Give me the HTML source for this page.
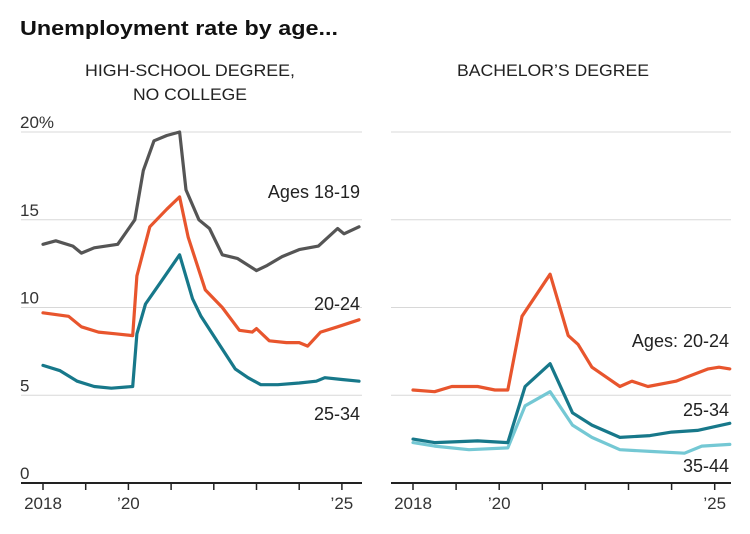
<!DOCTYPE html>
<html><head><meta charset="utf-8"><style>
html,body{margin:0;padding:0;background:#fff;}
svg text{font-family:"Liberation Sans",sans-serif;}
</style></head><body>
<svg id="c" width="750" height="529" xmlns="http://www.w3.org/2000/svg">
<text x="20" y="35" font-size="20" font-weight="bold" fill="#111" textLength="318" lengthAdjust="spacingAndGlyphs">Unemployment rate by age...</text>
<text x="190" y="76" font-size="17" text-anchor="middle" fill="#222" font-family="Liberation Sans Narrow, Liberation Sans, sans-serif" textLength="210" lengthAdjust="spacingAndGlyphs">HIGH-SCHOOL DEGREE,</text>
<text x="190" y="100" font-size="17" text-anchor="middle" fill="#222" font-family="Liberation Sans Narrow, Liberation Sans, sans-serif" textLength="114" lengthAdjust="spacingAndGlyphs">NO COLLEGE</text>
<text x="553" y="76" font-size="17" text-anchor="middle" fill="#222" font-family="Liberation Sans Narrow, Liberation Sans, sans-serif" textLength="192" lengthAdjust="spacingAndGlyphs">BACHELOR’S DEGREE</text>
<g id="plots"></g>
</svg>
<script>
const yTicks=[0,5,10,15,20];
const yTickLabels=["0","5","10","15","20%"];
const xTickYears=[2018,2019,2020,2021,2022,2023,2024,2025];
const xTickLabels={2018:"2018",2020:"’20",2025:"’25"};
const hsYears18=[2018.0,2018.3,2018.7,2018.9,2019.2,2019.75,2019.95,2020.15,2020.35,2020.6,2020.9,2021.2,2021.35,2021.65,2021.9,2022.2,2022.55,2023.0,2023.25,2023.6,2024.0,2024.45,2024.9,2025.05,2025.4];
const hsVals18=[13.6,13.8,13.5,13.1,13.4,13.6,14.3,15.0,17.8,19.5,19.8,20.0,16.7,15.0,14.5,13.0,12.8,12.1,12.4,12.9,13.3,13.5,14.5,14.2,14.6];
const hsYears20=[2018.0,2018.6,2018.9,2019.3,2019.7,2020.1,2020.2,2020.5,2020.9,2021.2,2021.4,2021.8,2022.2,2022.6,2022.9,2023.0,2023.3,2023.7,2024.0,2024.2,2024.5,2024.9,2025.4];
const hsVals20=[9.7,9.5,8.9,8.6,8.5,8.4,11.8,14.6,15.6,16.3,14.0,11.0,10.0,8.7,8.6,8.8,8.1,8.0,8.0,7.8,8.6,8.9,9.3];
const hsYears25=[2018.0,2018.4,2018.8,2019.2,2019.6,2020.1,2020.2,2020.4,2020.8,2021.2,2021.5,2021.7,2022.1,2022.5,2022.8,2023.1,2023.5,2024.0,2024.4,2024.6,2025.0,2025.4];
const hsVals25=[6.7,6.4,5.8,5.5,5.4,5.5,8.5,10.2,11.6,13.0,10.5,9.5,8.0,6.5,6.0,5.6,5.6,5.7,5.8,6.0,5.9,5.8];
const baYears20=[2018.0,2018.5,2018.9,2019.5,2019.9,2020.2,2020.53,2021.18,2021.6,2021.83,2022.15,2022.8,2023.08,2023.45,2024.1,2024.85,2025.1,2025.35];
const baVals20=[5.3,5.2,5.5,5.5,5.3,5.3,9.5,11.9,8.4,7.9,6.6,5.5,5.8,5.5,5.8,6.5,6.6,6.5];
const baYears25=[2018.0,2018.5,2019.5,2020.2,2020.6,2021.18,2021.7,2022.15,2022.8,2023.5,2024.0,2024.6,2025.35];
const baVals25=[2.5,2.3,2.4,2.3,5.5,6.8,4.0,3.3,2.6,2.7,2.9,3.0,3.4];
const baYears35=[2018.0,2018.5,2019.3,2020.2,2020.6,2021.18,2021.7,2022.15,2022.8,2023.5,2024.3,2024.7,2025.35];
const baVals35=[2.3,2.1,1.9,2.0,4.4,5.2,3.3,2.6,1.9,1.8,1.7,2.1,2.2];

const NS="http://www.w3.org/2000/svg";
const g=document.getElementById('plots');
function el(t,a){const e=document.createElementNS(NS,t);for(const k in a)e.setAttribute(k,a[k]);g.appendChild(e);return e;}
const y=v=>483-v*17.55;
function panel(p,x0,ppy,axL,axR,showY,series,labels){
  const x=yr=>x0+(yr-2018)*ppy;
  yTicks.forEach((t,i)=>{
    if(t>0){const l=el('line',{x1:axL,x2:axR,y1:y(t),y2:y(t),stroke:'#d8d8d8','stroke-width':1});
    
    }
    if(showY){const tx=el('text',{x:showY,y:y(t)-4,'font-size':17,fill:'#333'});tx.textContent=yTickLabels[i];
    
    }
  });
  const ax=el('line',{x1:axL,x2:axR,y1:483,y2:483,stroke:'#222','stroke-width':2});
  
  
  xTickYears.forEach(yr=>{
    const tk=el('line',{x1:x(yr),x2:x(yr),y1:483,y2:490,stroke:'#222','stroke-width':1.5});
    
    
    if(xTickLabels[yr]){const t=el('text',{x:x(yr),y:509,'font-size':17,fill:'#333','text-anchor':'middle'});t.textContent=xTickLabels[yr];
    
    }
  });
  series.forEach(s=>{
    const d=s.ys.map((yr,i)=>(i?'L':'M')+x(yr).toFixed(1)+','+y(s.vs[i]).toFixed(1)).join('');
    const pth=el('path',{d:d,fill:'none',stroke:s.c,'stroke-width':3.2,'stroke-linejoin':'round','stroke-linecap':'round'});
    
    
  });
  labels.forEach(lb=>{
    const t=el('text',{x:axR-2,y:lb.y,'font-size':18,fill:'#222','text-anchor':'end'});t.textContent=lb.t;
    
    
  });
}
panel('left',43,42.7,21,362,20,
 [{ys:hsYears18,vs:hsVals18,c:'#555555',n:'ages-18-19'},{ys:hsYears20,vs:hsVals20,c:'#e8552d',n:'ages-20-24'},{ys:hsYears25,vs:hsVals25,c:'#17788a',n:'ages-25-34'}],
 [{t:'Ages 18-19',y:198,n:'ages-18-19'},{t:'20-24',y:310,n:'ages-20-24'},{t:'25-34',y:420,n:'ages-25-34'}]);
panel('right',413,43.1,391,731,0,
 [{ys:baYears35,vs:baVals35,c:'#74c8d4',n:'ages-35-44'},{ys:baYears20,vs:baVals20,c:'#e8552d',n:'ages-20-24'},{ys:baYears25,vs:baVals25,c:'#17788a',n:'ages-25-34'}],
 [{t:'Ages: 20-24',y:347,n:'ages-20-24'},{t:'25-34',y:416,n:'ages-25-34'},{t:'35-44',y:472,n:'ages-35-44'}]);
</script>
</body></html>
